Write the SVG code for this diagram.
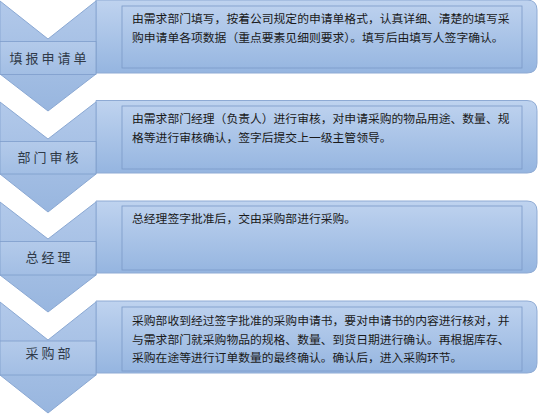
<svg xmlns="http://www.w3.org/2000/svg" width="538" height="414" viewBox="0 0 538 414">
<defs>
<linearGradient id="gBox" x1="0" y1="0" x2="0" y2="1">
<stop offset="0" stop-color="#bfd3ef"/>
<stop offset="1" stop-color="#95b5e0"/>
</linearGradient>
<linearGradient id="gChev" x1="0" y1="0" x2="0" y2="1">
<stop offset="0" stop-color="#b2c9ea"/>
<stop offset="1" stop-color="#98b6df"/>
</linearGradient>
<linearGradient id="gLab" x1="0" y1="0" x2="0" y2="1">
<stop offset="0" stop-color="#b3caea"/>
<stop offset="1" stop-color="#a2bee4"/>
</linearGradient>
</defs>
<style>
.box{fill:url(#gBox);stroke:#8eaad4;stroke-width:1}
.inner{fill:none;stroke:#7b99c7;stroke-width:0.8}
.chev{fill:url(#gChev);stroke:#8aa8d3;stroke-width:1}
.lab{fill:url(#gLab);stroke:#7e9dcb;stroke-width:0.8}
.t{font-family:"Noto Sans CJK SC","Noto Sans",sans-serif;font-size:11.8px;fill:#1a1a1a}
.l{font-family:"Noto Sans CJK SC","Noto Sans",sans-serif;font-size:13px;fill:#2f3a48;letter-spacing:3px;text-anchor:middle}
</style>
<rect width="538" height="414" fill="#ffffff"/>
<g id="connectors"></g>
<g id="step1">
<path class="box" d="M96,0 H527 Q537,0 537,10 V63 Q537,73 527,73 H96 Z"/>
<rect class="inner" x="122" y="6" width="400" height="62"/>
<polygon class="chev" points="0,1 48,39 96,1 96,74 48,111 0,74"/>
<rect class="lab" x="0" y="41.5" width="96" height="33"/>
<text class="l" x="49.5" y="63">填报申请单</text>
<text class="t" x="132" y="23">由需求部门填写，按着公司规定的申请单格式，认真详细、清楚的填写采</text>
<text class="t" x="132" y="41.5">购申请单各项数据（重点要素见细则要求）。填写后由填写人签字确认。</text>
</g>
<g id="step2">
<path class="box" d="M96,100.5 H527 Q537,100.5 537,110.5 V163 Q537,173 527,173 H96 Z"/>
<rect class="inner" x="122" y="106" width="400" height="63"/>
<polygon class="chev" points="0,102 48,139 96,102 96,174 48,212 0,174"/>
<rect class="lab" x="0" y="141.5" width="96" height="32.5"/>
<text class="l" x="49.5" y="162">部门审核</text>
<text class="t" x="132" y="123">由需求部门经理（负责人）进行审核，对申请采购的物品用途、数量、规</text>
<text class="t" x="132" y="141.5">格等进行审核确认，签字后提交上一级主管领导。</text>
</g>
<g id="step3">
<path class="box" d="M96,201 H527 Q537,201 537,211 V263 Q537,273 527,273 H96 Z"/>
<rect class="inner" x="122" y="206" width="400" height="64"/>
<polygon class="chev" points="0,202 48,239 96,202 96,275 48,312 0,275"/>
<rect class="lab" x="0" y="241.5" width="96" height="33.5"/>
<text class="l" x="49.5" y="262">总经理</text>
<text class="t" x="132" y="223">总经理签字批准后，交由采购部进行采购。</text>
</g>
<g id="step4">
<path class="box" d="M96,301 H527 Q537,301 537,311 V363 Q537,373 527,373 H96 Z"/>
<rect class="inner" x="122" y="307" width="400" height="64"/>
<polygon class="chev" points="0,302 48,340 96,302 96,375 48,413 0,375"/>
<rect class="lab" x="0" y="341" width="96" height="34"/>
<text class="l" x="49.5" y="358">采购部</text>
<text class="t" x="132" y="325">采购部收到经过签字批准的采购申请书，要对申请书的内容进行核对，并</text>
<text class="t" x="132" y="343.5">与需求部门就采购物品的规格、数量、到货日期进行确认。再根据库存、</text>
<text class="t" x="132" y="362">采购在途等进行订单数量的最终确认。确认后，进入采购环节。</text>
</g>
</svg>
